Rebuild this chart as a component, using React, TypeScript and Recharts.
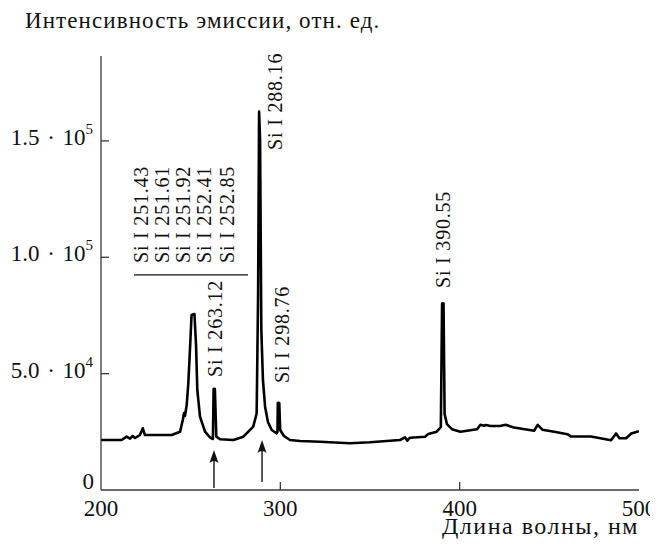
import React from "react";
import {
  LineChart,
  Line,
  XAxis,
  YAxis,
  ReferenceLine,
  ReferenceDot,
  Label,
} from "recharts";

// Emission spectrum: wavelength (nm) and intensity (arb. units)
const wavelengths = [
  200, 211.5, 214.3, 216.2, 217.7, 219.0, 221.7, 223.3, 224.5, 239.4,
  244.1, 245.6, 246.3, 246.8, 247.8, 248.7, 249.6, 250.5, 252.1, 253.0,
  253.7, 255.2, 258.0, 260.8, 262.4, 262.8, 263.12, 263.5, 264.3, 266.4,
  273.8, 279.4, 284.9, 286.8, 287.6, 288.16, 288.7, 289.4, 290.3, 291.5,
  293.1, 295.2, 298.0, 298.4, 298.6, 298.76, 299.4, 299.9, 302.0, 305.4,
  311.0, 322.1, 338.8, 350.0, 366.7, 369.5, 370.8, 372.3, 380.7, 382.5,
  387.2, 389.5, 390.2, 390.55, 391.0, 391.6, 392.9, 395.7, 400.4, 409.7,
  411.6, 413.5, 414.7, 417.2, 422.5, 425.6, 430.3, 441.5, 443.5, 446.1,
  452.7, 460.1, 462.0, 473.2, 484.4, 487.2, 489.1, 492.8, 495.7, 499.4,
  500,
];

const intensity = [
  21490, 21490, 22910, 22050, 23210, 22350, 23640, 26520, 23640, 23640,
  25060, 30090, 33100, 31810, 36530, 45990, 60170, 75220, 75640, 62320,
  42980, 31500, 25060, 22560, 21920, 43410, 43500, 43410, 22910, 21790,
  21490, 22910, 27210, 32970, 84000, 162590, 150430, 68770, 47280, 35800,
  29230, 25790, 24370, 24930, 37390, 37450, 37390, 25790, 23210, 21490,
  21060, 20760, 20070, 20500, 21490, 22650, 21190, 22480, 22910, 24070,
  25060, 27080, 80110, 80200, 80110, 32660, 28320, 26130, 25010, 26130,
  28020, 27590, 27940, 27510, 27510, 28020, 26860, 25440, 28020, 25900,
  25010, 23980, 22990, 22990, 21400, 24280, 22260, 22260, 24280, 25140,
  25300,
];

const spectrum = wavelengths.map((wl, i) => ({ wl, intensity: intensity[i] }));

const xTicks = [200, 300, 400, 500];
const xTopTicks = [300, 400];
const yTicks = [0, 50000, 100000, 150000];
const yRightTicks = [50000, 100000, 150000];

// Line identifications; each label starts at (wl, level) and runs upward
const lineLabels = [
  { text: "Si I 251.43", wl: 222.3, level: 97560 },
  { text: "Si I 251.61", wl: 234.0, level: 97560 },
  { text: "Si I 251.92", wl: 245.7, level: 97560 },
  { text: "Si I 252.41", wl: 257.4, level: 97560 },
  { text: "Si I 252.85", wl: 270.0, level: 97560 },
  { text: "Si I 263.12", wl: 263.6, level: 48570 },
  { text: "Si I 288.16", wl: 297.0, level: 146130 },
  { text: "Si I 298.76", wl: 300.9, level: 45990 },
  { text: "Si I 390.55", wl: 390.7, level: 86820 },
];

// Rule under the grouped 251–252 nm lines
const groupRule = { from: 218.4, to: 282.0, level: 92410 };

// Upward arrows under the lines of interest
const arrows = [
  { wl: 263.0, tail: 860, tip: 17190 },
  { wl: 289.8, tail: 3440, tip: 21490 },
];

const FONT = "'Liberation Serif', 'Times New Roman', serif";
const INK = "#111";
const FRAME = "#3a3a3a";
const TICK_LEN = 8;
const SP = "\u2004";

const LeftTick = (props: any) => {
  const { x, y, payload } = props;
  const v: number = payload.value;
  if (v === 0) {
    return (
      <text x={x - 7} y={y - 1} textAnchor="end" fontFamily={FONT} fontSize={23} fill={INK}>
        0
      </text>
    );
  }
  const exp = Math.floor(Math.log10(v));
  const mant = (v / Math.pow(10, exp)).toFixed(1);
  return (
    <g>
      <line x1={x} x2={x + TICK_LEN} y1={y} y2={y} stroke={FRAME} strokeWidth={1.3} />
      <text x={x - 8} y={y + 4} textAnchor="end" fontFamily={FONT} fontSize={23} fill={INK}>
        <tspan>{`${mant}${SP}·${SP}10`}</tspan>
        <tspan dy={-11} fontSize={15}>{exp}</tspan>
      </text>
    </g>
  );
};

const RightTick = (props: any) => {
  const { x, y } = props;
  return <line x1={x} x2={x - TICK_LEN} y1={y} y2={y} stroke={FRAME} strokeWidth={1.3} />;
};

const BottomTick = (props: any) => {
  const { x, y, payload } = props;
  const v: number = payload.value;
  const inner = v !== xTicks[0] && v !== xTicks[xTicks.length - 1];
  return (
    <g>
      {inner && <line x1={x} x2={x} y1={y} y2={y - TICK_LEN} stroke={FRAME} strokeWidth={1.3} />}
      <text x={x} y={y + 26} textAnchor="middle" fontFamily={FONT} fontSize={23} fill={INK}>
        {v}
      </text>
    </g>
  );
};

const TopTick = (props: any) => {
  const { x, y } = props;
  return <line x1={x} x2={x} y1={y} y2={y + TICK_LEN} stroke={FRAME} strokeWidth={1.3} />;
};

const Arrow = (props: any) => {
  const { x1, y1, x2, y2 } = props;
  const len = 13;
  const half = 4.5;
  return (
    <g>
      <line x1={x1} y1={y1} x2={x2} y2={y2 + 7} stroke={INK} strokeWidth={1.4} />
      <path
        d={`M${x2},${y2} L${x2 - half},${y2 + len} Q${x2},${y2 + len - 4} ${x2 + half},${y2 + len} Z`}
        fill={INK}
      />
    </g>
  );
};

const peakLabel = (text: string) => (p: any) => (
  <text
    x={p.cx}
    y={p.cy}
    transform={`rotate(-90 ${p.cx} ${p.cy})`}
    textAnchor="start"
    dominantBaseline="central"
    fontFamily={FONT}
    fontSize={20}
    letterSpacing={0.8}
    fill={INK}
  >
    {text}
  </text>
);

const YTitle = (props: any) => {
  const vb = props.viewBox;
  return (
    <text
      x={vb.x + 17}
      y={vb.y - 28}
      fontFamily={FONT}
      fontSize={23}
      letterSpacing={1.1}
      fill={INK}
    >
      Интенсивность эмиссии, отн. ед.
    </text>
  );
};

const XTitle = (props: any) => {
  const vb = props.viewBox;
  return (
    <text
      x={vb.x + vb.width}
      y={vb.y + 44}
      textAnchor="end"
      fontFamily={FONT}
      fontSize={24}
      letterSpacing={1.5}
      fill={INK}
    >
      Длина волны, нм
    </text>
  );
};

export default function App() {
  const frame = { stroke: FRAME, strokeWidth: 1.3 };
  return (
    <div style={{ width: 650, height: 536 }}>
      <LineChart
        width={650}
        height={536}
        data={spectrum}
        margin={{ top: 48, right: 19, bottom: 24, left: 0 }}
      >
        <XAxis
          dataKey="wl"
          type="number"
          domain={[200, 500]}
          ticks={xTicks}
          interval={0}
          allowDataOverflow
          height={30}
          tickSize={0}
          tickMargin={0}
          tickLine={false}
          axisLine={frame}
          tick={(p: any) => <BottomTick {...p} />}
        >
          <Label content={XTitle} />
        </XAxis>
        <XAxis
          xAxisId="top"
          orientation="top"
          dataKey="wl"
          type="number"
          domain={[200, 500]}
          ticks={xTopTicks}
          interval={0}
          allowDataOverflow
          height={0}
          tickSize={0}
          tickMargin={0}
          tickLine={false}
          axisLine={frame}
          tick={(p: any) => <TopTick {...p} />}
        />
        <YAxis
          type="number"
          domain={[0, 186500]}
          ticks={yTicks}
          interval={0}
          allowDataOverflow
          width={93}
          tickSize={0}
          tickMargin={0}
          tickLine={false}
          axisLine={frame}
          tick={(p: any) => <LeftTick {...p} />}
        >
          <Label content={YTitle} />
        </YAxis>
        <YAxis
          yAxisId="right"
          orientation="right"
          type="number"
          domain={[0, 186500]}
          ticks={yRightTicks}
          interval={0}
          allowDataOverflow
          width={0}
          tickSize={0}
          tickMargin={0}
          tickLine={false}
          axisLine={frame}
          tick={(p: any) => <RightTick {...p} />}
        />
        <Line
          type="linear"
          dataKey="intensity"
          stroke="#000"
          strokeWidth={2.6}
          strokeLinejoin="round"
          dot={false}
          activeDot={false}
          isAnimationActive={false}
        />
        <ReferenceLine
          segment={[
            { x: groupRule.from, y: groupRule.level },
            { x: groupRule.to, y: groupRule.level },
          ]}
          stroke={INK}
          strokeWidth={1.2}
          ifOverflow="visible"
        />
        {arrows.map((a) => (
          <ReferenceLine
            key={a.wl}
            segment={[
              { x: a.wl, y: a.tail },
              { x: a.wl, y: a.tip },
            ]}
            ifOverflow="visible"
            shape={(p: any) => <Arrow {...p} />}
          />
        ))}
        {lineLabels.map((l) => (
          <ReferenceDot
            key={l.text}
            x={l.wl}
            y={l.level}
            r={0}
            ifOverflow="visible"
            shape={peakLabel(l.text)}
          />
        ))}
      </LineChart>
    </div>
  );
}
